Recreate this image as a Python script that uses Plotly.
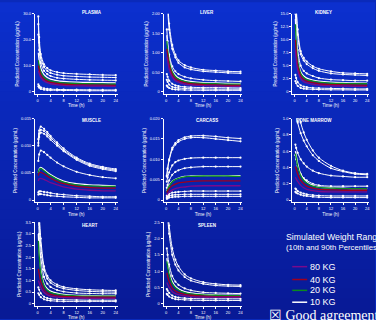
import plotly.graph_objects as go

# ---------------- data ----------------
T = [0.25, 0.5, 1, 2, 3, 4, 6, 8, 12, 16, 20, 24]
X_TICKS = [0, 4, 8, 12, 16, 20, 24]

# PLASMA
plasma_pct = [
    [29, 21, 14.5, 10.5, 9.0, 8.2, 7.5, 7.1, 6.8, 6.6, 6.4, 6.3],
    [26, 19, 13, 9.5, 8.0, 7.2, 6.5, 6.1, 5.8, 5.6, 5.5, 5.4],
    [22, 16, 11, 8.0, 6.7, 6.0, 5.3, 5.0, 4.7, 4.5, 4.4, 4.3],
    [2.8, 2.2, 1.6, 1.2, 1.0, 0.9, 0.8, 0.75, 0.7, 0.65, 0.6, 0.6],
    [2.0, 1.5, 1.0, 0.7, 0.55, 0.5, 0.45, 0.4, 0.35, 0.3, 0.3, 0.3],
]
plasma_10 = [15, 12, 9.0, 6.5, 5.4, 4.8, 4.2, 3.9, 3.6, 3.5, 3.4, 3.3]
plasma_20 = [12, 10, 7.5, 5.5, 4.6, 4.1, 3.6, 3.3, 3.1, 3.0, 2.9, 2.9]
plasma_40 = [10, 8.5, 6.5, 4.8, 4.0, 3.5, 3.1, 2.8, 2.6, 2.5, 2.45, 2.4]
plasma_80 = [8, 7, 5.5, 4.1, 3.4, 3.0, 2.6, 2.4, 2.2, 2.1, 2.05, 2.0]

# LIVER
liver_pct = [
    [3.0, 2.4, 1.75, 1.2, 0.95, 0.8, 0.68, 0.62, 0.56, 0.54, 0.52, 0.51],
    [2.8, 2.2, 1.6, 1.1, 0.88, 0.74, 0.62, 0.57, 0.52, 0.50, 0.48, 0.47],
    [1.6, 1.3, 0.95, 0.65, 0.52, 0.45, 0.38, 0.34, 0.30, 0.28, 0.27, 0.26],
    [0.45, 0.38, 0.28, 0.2, 0.16, 0.14, 0.12, 0.11, 0.1, 0.1, 0.095, 0.09],
    [0.3, 0.25, 0.18, 0.12, 0.1, 0.09, 0.08, 0.07, 0.065, 0.06, 0.06, 0.06],
    [0.15, 0.12, 0.09, 0.06, 0.05, 0.045, 0.04, 0.035, 0.03, 0.03, 0.03, 0.03],
]
liver_10 = [1.45, 1.2, 0.85, 0.55, 0.42, 0.35, 0.29, 0.26, 0.23, 0.22, 0.21, 0.20]
liver_20 = [1.3, 1.1, 0.78, 0.5, 0.38, 0.32, 0.26, 0.23, 0.21, 0.2, 0.19, 0.19]
liver_40 = [1.1, 0.95, 0.68, 0.44, 0.33, 0.28, 0.23, 0.2, 0.18, 0.17, 0.16, 0.16]
liver_80 = [0.9, 0.8, 0.58, 0.37, 0.28, 0.24, 0.19, 0.17, 0.15, 0.14, 0.135, 0.13]

# KIDNEY
kidney_pct = [
    [22, 17, 12, 7.8, 6.5, 5.8, 4.9, 4.4, 3.9, 3.6, 3.5, 3.4],
    [20, 16, 11, 7.2, 6.0, 5.3, 4.5, 4.0, 3.5, 3.3, 3.2, 3.1],
    [15, 12, 8.0, 5.0, 4.0, 3.5, 3.0, 2.6, 2.3, 2.2, 2.1, 2.1],
    [3.2, 2.6, 1.8, 1.2, 0.95, 0.85, 0.7, 0.65, 0.6, 0.55, 0.5, 0.5],
    [2.0, 1.6, 1.1, 0.7, 0.55, 0.5, 0.42, 0.38, 0.34, 0.32, 0.3, 0.3],
]
kidney_10 = [14, 11, 6.5, 3.8, 3.0, 2.6, 2.2, 2.0, 1.8, 1.7, 1.65, 1.6]
kidney_20 = [13, 10, 6.0, 3.5, 2.7, 2.3, 2.0, 1.8, 1.6, 1.55, 1.5, 1.5]
kidney_40 = [10, 8, 5.0, 3.0, 2.3, 2.0, 1.7, 1.5, 1.35, 1.3, 1.25, 1.2]
kidney_80 = [8, 6.5, 4.2, 2.5, 1.9, 1.65, 1.4, 1.25, 1.1, 1.05, 1.0, 1.0]

# MUSCLE
muscle_pct = [
    [0.0112, 0.0128, 0.0135, 0.0131, 0.0125, 0.0118, 0.0106, 0.0095, 0.0078, 0.0067, 0.0061, 0.0057],
    [0.0105, 0.0122, 0.0129, 0.0127, 0.0121, 0.0115, 0.0103, 0.0092, 0.0076, 0.0065, 0.0059, 0.0055],
    [0.0100, 0.0116, 0.0124, 0.0122, 0.0117, 0.0111, 0.0100, 0.0090, 0.0074, 0.0063, 0.0057, 0.0053],
    [0.0072, 0.0084, 0.0091, 0.0088, 0.0083, 0.0078, 0.0069, 0.0062, 0.0052, 0.0046, 0.0042, 0.0040],
    [0.0014, 0.0016, 0.0016, 0.0015, 0.0014, 0.0013, 0.0011, 0.0010, 0.0008, 0.0007, 0.0006, 0.0006],
    [0.0010, 0.0011, 0.0011, 0.0010, 0.0009, 0.0008, 0.0007, 0.0006, 0.0005, 0.0004, 0.0004, 0.0004],
]
muscle_10 = [0.0050, 0.0057, 0.0060, 0.0056, 0.0051, 0.0047, 0.0040, 0.0035, 0.0030, 0.0028, 0.0027, 0.0026]
muscle_20 = [0.0050, 0.0056, 0.0058, 0.0054, 0.0049, 0.0045, 0.0038, 0.0033, 0.0028, 0.0026, 0.0025, 0.0025]
muscle_40 = [0.0045, 0.0050, 0.0051, 0.0048, 0.0044, 0.0040, 0.0034, 0.0030, 0.0025, 0.0023, 0.0022, 0.0022]
muscle_80 = [0.0035, 0.0039, 0.0040, 0.0038, 0.0035, 0.0032, 0.0028, 0.0024, 0.0020, 0.0018, 0.0017, 0.0017]

# CARCASS
carcass_pct = [
    [0.0060, 0.0078, 0.0100, 0.0128, 0.0140, 0.0147, 0.0154, 0.0157, 0.0158, 0.0156, 0.0153, 0.0151],
    [0.0058, 0.0075, 0.0097, 0.0124, 0.0136, 0.0143, 0.0150, 0.0153, 0.0153, 0.0150, 0.0147, 0.0144],
    [0.0045, 0.0055, 0.0068, 0.0085, 0.0093, 0.0097, 0.0101, 0.0103, 0.0104, 0.0104, 0.0104, 0.0104],
    [0.0030, 0.0037, 0.0048, 0.0062, 0.0069, 0.0073, 0.0078, 0.0080, 0.0082, 0.0082, 0.0082, 0.0082],
    [0.0010, 0.0012, 0.0015, 0.0018, 0.0019, 0.0020, 0.0021, 0.0022, 0.0022, 0.0022, 0.0022, 0.0022],
    [0.0006, 0.0008, 0.0010, 0.0012, 0.0013, 0.0013, 0.0014, 0.0014, 0.0014, 0.0014, 0.0014, 0.0014],
    [0.0003, 0.0004, 0.0006, 0.0007, 0.0008, 0.0008, 0.0009, 0.0009, 0.0009, 0.0009, 0.0009, 0.0009],
]
carcass_10 = [0.0022, 0.0028, 0.0036, 0.0046, 0.0051, 0.0054, 0.0058, 0.0059, 0.0060, 0.0060, 0.0060, 0.0060]
carcass_20 = [0.0020, 0.0026, 0.0034, 0.0045, 0.0050, 0.0053, 0.0057, 0.0058, 0.0059, 0.0059, 0.0059, 0.0058]
carcass_40 = [0.0018, 0.0022, 0.0028, 0.0035, 0.0039, 0.0042, 0.0044, 0.0046, 0.0047, 0.0047, 0.0047, 0.0047]
carcass_80 = [0.0012, 0.0015, 0.0019, 0.0025, 0.0028, 0.0030, 0.0032, 0.0034, 0.0035, 0.0035, 0.0035, 0.0035]

# BONE MARROW
marrow_pct = [
    [1.15, 1.05, 0.95, 0.82, 0.73, 0.66, 0.55, 0.48, 0.39, 0.35, 0.32, 0.31],
    [1.6, 1.4, 1.15, 0.95, 0.83, 0.74, 0.61, 0.52, 0.42, 0.36, 0.33, 0.32],
    [0.68, 0.64, 0.58, 0.5, 0.45, 0.41, 0.36, 0.33, 0.30, 0.29, 0.28, 0.28],
    [0.55, 0.5, 0.42, 0.32, 0.27, 0.24, 0.2, 0.18, 0.17, 0.17, 0.17, 0.17],
    [0.14, 0.13, 0.11, 0.09, 0.08, 0.07, 0.06, 0.055, 0.05, 0.05, 0.05, 0.05],
    [0.1, 0.09, 0.08, 0.065, 0.055, 0.05, 0.04, 0.035, 0.03, 0.03, 0.03, 0.03],
]
marrow_10 = [0.6, 0.55, 0.45, 0.32, 0.26, 0.22, 0.18, 0.16, 0.15, 0.145, 0.14, 0.14]
marrow_20 = [0.57, 0.52, 0.42, 0.3, 0.24, 0.21, 0.17, 0.155, 0.145, 0.14, 0.14, 0.14]
marrow_40 = [0.41, 0.38, 0.32, 0.24, 0.2, 0.17, 0.145, 0.13, 0.125, 0.12, 0.12, 0.12]
marrow_80 = [0.28, 0.26, 0.23, 0.18, 0.15, 0.13, 0.115, 0.105, 0.1, 0.1, 0.1, 0.1]

# HEART
heart_pct = [
    [5.0, 4.0, 2.8, 1.6, 1.2, 1.0, 0.82, 0.72, 0.64, 0.6, 0.58, 0.57],
    [4.6, 3.6, 2.5, 1.45, 1.08, 0.9, 0.74, 0.65, 0.57, 0.53, 0.51, 0.5],
    [3.8, 3.0, 2.0, 1.15, 0.86, 0.72, 0.59, 0.52, 0.46, 0.44, 0.43, 0.43],
    [0.7, 0.6, 0.45, 0.3, 0.24, 0.21, 0.18, 0.17, 0.16, 0.15, 0.15, 0.15],
    [0.45, 0.38, 0.28, 0.19, 0.15, 0.13, 0.11, 0.1, 0.1, 0.1, 0.1, 0.1],
]
heart_10 = [3.0, 2.3, 1.5, 0.85, 0.64, 0.54, 0.45, 0.4, 0.36, 0.35, 0.34, 0.34]
heart_20 = [2.7, 2.1, 1.35, 0.78, 0.58, 0.49, 0.41, 0.37, 0.34, 0.33, 0.33, 0.33]
heart_40 = [1.5, 1.3, 0.95, 0.6, 0.46, 0.4, 0.34, 0.31, 0.29, 0.28, 0.28, 0.28]
heart_80 = [1.0, 0.9, 0.7, 0.48, 0.38, 0.33, 0.28, 0.26, 0.24, 0.23, 0.23, 0.23]

# SPLEEN
spleen_pct = [
    [3.5, 3.0, 2.4, 1.7, 1.35, 1.15, 0.9, 0.78, 0.66, 0.61, 0.58, 0.57],
    [3.2, 2.7, 2.15, 1.5, 1.2, 1.02, 0.82, 0.71, 0.61, 0.56, 0.54, 0.53],
    [1.7, 1.5, 1.2, 0.85, 0.68, 0.58, 0.47, 0.41, 0.35, 0.33, 0.32, 0.31],
    [0.45, 0.4, 0.33, 0.25, 0.21, 0.19, 0.17, 0.16, 0.15, 0.15, 0.15, 0.15],
    [0.3, 0.27, 0.22, 0.17, 0.14, 0.13, 0.12, 0.11, 0.1, 0.1, 0.1, 0.1],
]
spleen_10 = [1.4, 1.25, 0.98, 0.68, 0.54, 0.46, 0.37, 0.33, 0.29, 0.27, 0.26, 0.26]
spleen_20 = [1.3, 1.15, 0.9, 0.62, 0.49, 0.42, 0.34, 0.3, 0.27, 0.26, 0.25, 0.25]
spleen_40 = [0.95, 0.85, 0.68, 0.48, 0.39, 0.34, 0.29, 0.26, 0.23, 0.22, 0.22, 0.22]
spleen_80 = [0.65, 0.6, 0.5, 0.37, 0.31, 0.28, 0.24, 0.22, 0.2, 0.2, 0.2, 0.2]

PANEL_TITLES = ["PLASMA", "LIVER", "KIDNEY", "MUSCLE", "CARCASS", "BONE MARROW", "HEART", "SPLEEN"]
Y_TICKS = [
    [0, 10, 20, 30],
    [0, 0.5, 1.0, 1.5, 2.0],
    [0, 2.5, 5.0, 7.5, 10.0, 12.5, 15.0],
    [0, 0.005, 0.010, 0.015],
    [0, 0.005, 0.010, 0.015, 0.020],
    [0, 0.2, 0.4, 0.6, 0.8, 1.0],
    [0, 0.5, 1.0, 1.5, 2.0, 2.5, 3.0, 3.5],
    [0, 0.5, 1.0, 1.5, 2.0, 2.5],
]
Y_FMT = [".1f", ".2f", ".1f", ".3f", ".3f", ".1f", ".1f", ".1f"]
LEGEND_LABELS = ["80 KG", "40 KG", "20 KG", "10 KG"]

# ---------------- layout ----------------
W, H = 376, 320
COLOR_10, COLOR_20, COLOR_40, COLOR_80 = "#ffffff", "#0a8a1e", "#a0001e", "#7a0a8c"
FONT = "Liberation Sans, Arial, sans-serif"

cols_px = [(35, 118), (164, 243), (293, 370)]
rows_px = [(11, 92), (117, 202), (222, 307)]
title_y_px = [10, 119, 225]

panels = [
    (plasma_pct, plasma_10, plasma_20, plasma_40, plasma_80),
    (liver_pct, liver_10, liver_20, liver_40, liver_80),
    (kidney_pct, kidney_10, kidney_20, kidney_40, kidney_80),
    (muscle_pct, muscle_10, muscle_20, muscle_40, muscle_80),
    (carcass_pct, carcass_10, carcass_20, carcass_40, carcass_80),
    (marrow_pct, marrow_10, marrow_20, marrow_40, marrow_80),
    (heart_pct, heart_10, heart_20, heart_40, heart_80),
    (spleen_pct, spleen_10, spleen_20, spleen_40, spleen_80),
]

fig = go.Figure()
shapes = []
annotations = []

# background gradient bands
N = 32
top = (12, 48, 206)
bot = (8, 26, 150)
for i in range(N):
    f = i / (N - 1)
    c = tuple(int(top[k] + (bot[k] - top[k]) * f) for k in range(3))
    shapes.append(dict(type="rect", xref="paper", yref="paper",
                       x0=0, x1=1, y0=1 - (i + 1) / N, y1=1 - i / N + 0.002,
                       line=dict(width=0), fillcolor="rgb(%d,%d,%d)" % c, layer="below"))

for idx, (pct, m10, m20, m40, m80) in enumerate(panels):
    r, c = divmod(idx, 3)
    n = idx + 1
    xa = "x" if n == 1 else "x%d" % n
    ya = "y" if n == 1 else "y%d" % n
    for curve in pct:
        fig.add_trace(go.Scatter(x=T, y=curve, mode="lines+markers", xaxis=xa, yaxis=ya,
                                 line=dict(color="white", width=1, shape="spline", smoothing=0.8),
                                 marker=dict(color="white", size=2.2), showlegend=False,
                                 hoverinfo="skip"))
    for curve, col in [(m10, COLOR_10), (m20, COLOR_20), (m40, COLOR_40), (m80, COLOR_80)]:
        fig.add_trace(go.Scatter(x=T, y=curve, mode="lines", xaxis=xa, yaxis=ya,
                                 line=dict(color=col, width=1.3, shape="spline", smoothing=0.8),
                                 showlegend=False, hoverinfo="skip"))
    x0, x1 = cols_px[c]
    y0, y1 = rows_px[r]
    ymax = Y_TICKS[idx][-1]
    ticks = Y_TICKS[idx]
    ttext = ["0"] + [format(v, Y_FMT[idx]) for v in ticks[1:]]
    axis_common = dict(showgrid=False, zeroline=False, showline=True, linecolor="white",
                       linewidth=1, ticks="outside", tickcolor="white", ticklen=2,
                       tickfont=dict(color="white", size=4, family=FONT))
    fig.layout["xaxis" if n == 1 else "xaxis%d" % n] = dict(
        domain=[x0 / W, x1 / W], anchor=ya, range=[-0.8, 24.6],
        tickvals=X_TICKS, title=dict(text="Time (h)", font=dict(color="white", size=4.5, family=FONT), standoff=2),
        **axis_common)
    fig.layout["yaxis" if n == 1 else "yaxis%d" % n] = dict(
        domain=[1 - y1 / H, 1 - y0 / H], anchor=xa, range=[-0.03 * ymax, ymax],
        tickvals=ticks, ticktext=ttext,
        title=dict(text="Predicted Concentration (µg/mL)", font=dict(color="white", size=4.5, family=FONT), standoff=3),
        **axis_common)
    annotations.append(dict(xref="paper", yref="paper", x=(x0 + (x1 - x0) * 0.55) / W,
                            y=1 - title_y_px[r] / H, text="<b>%s</b>" % PANEL_TITLES[idx],
                            showarrow=False, yanchor="middle",
                            font=dict(color="white", size=4.5, family=FONT)))

# manual legend
annotations.append(dict(xref="paper", yref="paper", x=285 / W, y=1 - 237 / H, xanchor="left",
                        yanchor="middle", text="Simulated Weight Range", showarrow=False,
                        font=dict(color="white", size=8.7, family=FONT)))
annotations.append(dict(xref="paper", yref="paper", x=285 / W, y=1 - 248 / H, xanchor="left",
                        yanchor="middle", text="(10th and 90th Percentiles)", showarrow=False,
                        font=dict(color="white", size=7.8, family=FONT)))
leg_y = [267, 280, 291, 303]
for lab, col, yy in zip(LEGEND_LABELS, [COLOR_80, COLOR_40, COLOR_20, COLOR_10], leg_y):
    shapes.append(dict(type="line", xref="paper", yref="paper", x0=293 / W, x1=308 / W,
                       y0=1 - yy / H, y1=1 - yy / H, line=dict(color=col, width=1.5)))
    annotations.append(dict(xref="paper", yref="paper", x=309 / W, y=1 - yy / H, xanchor="left",
                            yanchor="middle", text=lab, showarrow=False,
                            font=dict(color="white", size=9, family=FONT)))
annotations.append(dict(xref="paper", yref="paper", x=268 / W, y=1 - 316 / H, xanchor="left",
                        yanchor="middle", text="☒ Good agreement", showarrow=False,
                        font=dict(color="white", size=14, family="Liberation Serif, Times New Roman, serif")))

fig.update_layout(width=W, height=H, margin=dict(l=0, r=0, t=0, b=0),
                  paper_bgcolor="#0a2aba", plot_bgcolor="rgba(0,0,0,0)",
                  shapes=shapes, annotations=annotations, showlegend=False)
fig.write_html("out.html", config={"displayModeBar": False},
               post_script="document.body.style.margin='0';document.body.style.overflow='hidden';")
